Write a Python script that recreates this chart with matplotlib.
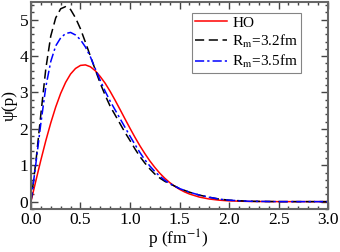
import matplotlib
matplotlib.use("Agg")
import matplotlib.pyplot as plt
from matplotlib.ticker import MultipleLocator, FormatStrFormatter

p = [0.0, 0.05, 0.10, 0.15, 0.20, 0.25, 0.30, 0.35, 0.40, 0.45, 0.50, 0.55,
     0.60, 0.65, 0.70, 0.75, 0.80, 0.85, 0.90, 0.95, 1.00, 1.05, 1.10, 1.15,
     1.20, 1.25, 1.30, 1.35, 1.40, 1.45, 1.50, 1.55, 1.60, 1.70, 1.80, 1.90,
     2.00, 2.20, 2.50, 3.00]

psi_ho = [0.0, 0.577, 1.140, 1.673, 2.163, 2.600, 2.974, 3.277, 3.507, 3.660,
          3.744, 3.758, 3.707, 3.596, 3.436, 3.251, 3.028, 2.785, 2.530, 2.271,
          2.016, 1.769, 1.535, 1.320, 1.120, 0.943, 0.783, 0.645, 0.526, 0.425,
          0.339, 0.268, 0.210, 0.125, 0.072, 0.040, 0.021, 0.005, 0.0, 0.0]

psi_32 = [0.0, 1.10, 2.40, 3.65, 4.55, 5.05, 5.30, 5.36, 5.28, 5.05,
          4.75, 4.38, 4.00, 3.62, 3.25, 2.92, 2.62, 2.38, 2.14, 1.90,
          1.68, 1.45, 1.24, 1.06, 0.90, 0.76, 0.65, 0.56, 0.49, 0.43,
          0.36, 0.31, 0.26, 0.18, 0.12, 0.07, 0.04, 0.01, 0.0, 0.0]

psi_35 = [0.0, 1.05, 2.15, 3.15, 3.85, 4.28, 4.50, 4.62, 4.65, 4.58,
          4.45, 4.25, 3.98, 3.65, 3.33, 3.03, 2.76, 2.52, 2.28, 2.04,
          1.80, 1.57, 1.35, 1.15, 0.98, 0.83, 0.70, 0.59, 0.50, 0.43,
          0.36, 0.31, 0.26, 0.18, 0.12, 0.07, 0.04, 0.01, 0.0, 0.0]

labels = ["HO", r"R$_{\rm m}$=3.2fm", r"R$_{\rm m}$=3.5fm"]

plt.rcParams['font.family'] = ['Liberation Serif', 'DejaVu Serif']
plt.rcParams['mathtext.fontset'] = 'stix'

fig = plt.figure(figsize=(3.4, 2.52), dpi=100)
ax = fig.add_axes([0.091, 0.171, 0.874, 0.823])

ax.plot(p, psi_ho, color='red', lw=1.1, label=labels[0])
ax.plot(p, psi_32, color='black', lw=1.1, ls=(0, (6, 3)), label=labels[1])
ax.plot(p, psi_35, color='blue', lw=1.1, ls=(0, (6, 2, 1.5, 2)), label=labels[2])

ax.set_xlim(0, 3.0)
ax.set_ylim(-0.2, 5.5)
ax.xaxis.set_major_locator(MultipleLocator(0.5))
ax.xaxis.set_minor_locator(MultipleLocator(0.1))
ax.yaxis.set_major_locator(MultipleLocator(1))
ax.yaxis.set_minor_locator(MultipleLocator(0.2))
ax.xaxis.set_major_formatter(FormatStrFormatter('%.1f'))
ax.tick_params(which='both', direction='in', top=True, right=True,
               labelsize=12.5, colors='#444444', labelcolor='black')
ax.tick_params(which='major', length=5, width=1, pad=2)
ax.tick_params(which='minor', length=2.5, width=1)
for s in ax.spines.values():
    s.set_color('#666666')
    s.set_linewidth(1.5)

ax.set_xlabel(r"p (fm$^{-1}$)", fontsize=12.5)
ax.xaxis.set_label_coords(0.495, -0.172, transform=ax.transAxes)
ax.xaxis.label.set_va('baseline')
ax.set_ylabel(r"ψ(p)", fontsize=12.5, labelpad=1)

leg = ax.legend(loc='upper right', bbox_to_anchor=(0.91, 0.945), fontsize=11,
                frameon=True, fancybox=False, edgecolor='#666666',
                handlelength=2.1, handletextpad=0.35, borderpad=0.2,
                labelspacing=0.2, borderaxespad=0)
leg.get_frame().set_linewidth(0.8)

fig.savefig("out.png", dpi=100)
